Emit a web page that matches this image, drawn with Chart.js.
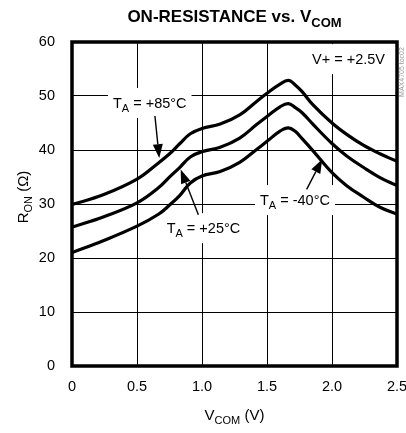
<!DOCTYPE html>
<html>
<head>
<meta charset="utf-8">
<script src="https://cdn.jsdelivr.net/npm/chart.js@4.4.1/dist/chart.umd.min.js"></script>
<style>
  html, body { margin: 0; padding: 0; background: #fff; }
  canvas { display: block; }
</style>
</head>
<body>
<canvas id="chart" width="406" height="433"></canvas>
<script>
// V_COM sweep (V) and on-resistance (ohm) per ambient temperature
const vcom   = [0, 0.24, 0.5, 0.665, 0.755, 0.83, 0.91, 1.0, 1.14, 1.29, 1.42, 1.5, 1.6, 1.664, 1.715, 1.77, 1.856, 2.0, 2.113, 2.241, 2.369, 2.5];
const ronP85 = [29.9, 31.7, 34.6, 37.6, 39.4, 41.2, 43.0, 44.0, 44.8, 46.5, 49.0, 50.5, 52.2, 52.9, 52.1, 50.8, 48.3, 45.0, 42.9, 40.9, 39.3, 37.9];
const ronP25 = [25.7, 27.6, 30.2, 33.0, 35.1, 36.8, 38.7, 39.7, 40.5, 42.2, 44.7, 46.2, 48.0, 48.6, 47.9, 46.9, 44.7, 41.2, 38.9, 36.8, 34.9, 33.4];
const ronM40 = [21.0, 23.2, 25.9, 28.1, 29.9, 31.6, 33.9, 35.2, 36.0, 37.7, 40.1, 41.6, 43.5, 44.1, 43.5, 42.1, 39.8, 35.8, 33.4, 31.3, 29.4, 28.1];

const xTickLabels = ["0", "0.5", "1.0", "1.5", "2.0", "2.5"];
const yTicks = [0, 10, 20, 30, 40, 50, 60];

// callouts, in data units (x = V_COM, y = baseline in ohms)
const callouts = [
  { parts: [["T"], ["A", 1], [" = +85°C"]], x: 0.315, y: 47.8, align: "left" },
  { parts: [["T"], ["A", 1], [" = +25°C"]], x: 0.728, y: 24.6, align: "left" },
  { parts: [["T"], ["A", 1], [" = -40°C"]], x: 1.446, y: 29.8, align: "left" },
  { parts: [["V+ = +2.5V"]], x: 2.408, y: 55.9, align: "right" },
];
const arrows = [
  { from: [0.638, 46.3], to: [0.671, 38.5] },
  { from: [0.972, 28.0], to: [0.836, 36.4] },
  { from: [1.805, 32.7], to: [1.925, 38.3] },
];

const FAMILY = '"Liberation Sans", Arial, sans-serif';
const font = (size, bold) => `${bold ? "bold " : ""}${size}px ${FAMILY}`;

const pts = (ys) => vcom.map((x, i) => ({ x, y: ys[i] }));

// text with optional subscript pieces: parts = [[text, isSub], ...]
function richText(ctx, parts, x, y, align, size, bold) {
  const sub = Math.round(size * 0.76);
  const widths = parts.map(([t, s]) => {
    ctx.font = font(s ? sub : size, bold);
    return ctx.measureText(t).width;
  });
  const total = widths.reduce((a, b) => a + b, 0);
  let cx = align === "center" ? x - total / 2 : align === "right" ? x - total : x;
  const left = cx;
  ctx.textAlign = "left";
  ctx.textBaseline = "alphabetic";
  parts.forEach(([t, s], i) => {
    ctx.font = font(s ? sub : size, bold);
    ctx.fillText(t, cx, y + (s ? size * 0.27 : 0));
    cx += widths[i];
  });
  return { left, width: total };
}

function measureRich(ctx, parts, size) {
  const sub = Math.round(size * 0.76);
  return parts.reduce((w, [t, s]) => {
    ctx.font = font(s ? sub : size);
    return w + ctx.measureText(t).width;
  }, 0);
}

const LABEL_SIZE = 14.5;

const overlay = {
  id: "overlay",
  beforeDatasetsDraw(chart) {
    // white boxes knock the grid out behind the callouts
    const { ctx, scales: { x, y }, chartArea: a } = chart;
    ctx.save();
    ctx.fillStyle = "#fff";
    callouts.forEach((c) => {
      const w = measureRich(ctx, c.parts, LABEL_SIZE);
      const px = x.getPixelForValue(c.x);
      const py = y.getPixelForValue(c.y);
      const left = c.align === "right" ? px - w : px;
      const top = Math.max(a.top + 2, py - 20);
      ctx.fillRect(left - 5, top, w + 10, py + 10 - top);
    });
    ctx.restore();
  },
  afterDatasetsDraw(chart) {
    const { ctx, scales: { x, y }, chartArea: a } = chart;
    ctx.save();
    ctx.fillStyle = "#000";
    ctx.strokeStyle = "#000";

    callouts.forEach((c) => {
      richText(ctx, c.parts, x.getPixelForValue(c.x), y.getPixelForValue(c.y), c.align, LABEL_SIZE);
    });

    arrows.forEach((ar) => {
      const x0 = x.getPixelForValue(ar.from[0]), y0 = y.getPixelForValue(ar.from[1]);
      const x1 = x.getPixelForValue(ar.to[0]), y1 = y.getPixelForValue(ar.to[1]);
      const ang = Math.atan2(y1 - y0, x1 - x0);
      const len = 14, half = 5;
      const bx = x1 - len * Math.cos(ang), by = y1 - len * Math.sin(ang);
      ctx.lineWidth = 1.4;
      ctx.beginPath();
      ctx.moveTo(x0, y0);
      ctx.lineTo(bx, by);
      ctx.stroke();
      ctx.beginPath();
      ctx.moveTo(x1, y1);
      ctx.lineTo(bx + half * Math.sin(ang), by - half * Math.cos(ang));
      ctx.lineTo(bx - half * Math.sin(ang), by + half * Math.cos(ang));
      ctx.closePath();
      ctx.fill();
    });

    // heavy plot frame
    ctx.lineWidth = 3.5;
    ctx.strokeRect(a.left, a.top, a.right - a.left, a.bottom - a.top);
    ctx.restore();
  },
  afterDraw(chart) {
    const { ctx, chartArea: a } = chart;
    const mid = (a.left + a.right) / 2;
    ctx.save();
    ctx.fillStyle = "#000";

    richText(ctx, [["ON-RESISTANCE vs. V"], ["COM", 1]], mid, 22, "center", 17, true);
    richText(ctx, [["V"], ["COM", 1], [" (V)"]], mid, 420, "center", 15);

    ctx.save();
    ctx.translate(28, 197);
    ctx.rotate(-Math.PI / 2);
    richText(ctx, [["R"], ["ON", 1], [" (Ω)"]], 0, 0, "center", 15);
    ctx.restore();

    ctx.save();
    ctx.translate(404, 72);
    ctx.rotate(-Math.PI / 2);
    ctx.fillStyle = "#999";
    ctx.font = font(7);
    ctx.textAlign = "center";
    ctx.fillText("MAX4705 toc02", 0, 0);
    ctx.restore();

    ctx.restore();
  },
};

const line = (data) => ({
  data,
  borderColor: "#000",
  borderWidth: 3.2,
  pointRadius: 0,
  tension: 0.4,
  fill: false,
});

new Chart(document.getElementById("chart"), {
  type: "line",
  data: {
    datasets: [line(pts(ronP85)), line(pts(ronP25)), line(pts(ronM40))],
  },
  options: {
    responsive: false,
    animation: false,
    events: [],
    layout: { padding: { top: 42, right: 9, left: 0, bottom: 0 } },
    plugins: { legend: { display: false }, tooltip: { enabled: false } },
    scales: {
      x: {
        type: "linear",
        min: 0,
        max: 2.5,
        afterBuildTicks: (s) => { s.ticks = xTickLabels.map((_, i) => ({ value: i * 0.5 })); },
        ticks: {
          color: "#000",
          padding: 12,
          maxRotation: 0,
          font: { family: FAMILY, size: 14.5 },
          callback: (v, i) => xTickLabels[i],
        },
        grid: { color: "#000", lineWidth: 1, drawTicks: false },
        border: { display: false },
        afterFit: (s) => { s.height = 67; s.paddingLeft = 0; s.paddingRight = 0; },
      },
      y: {
        type: "linear",
        min: 0,
        max: 60,
        afterBuildTicks: (s) => { s.ticks = yTicks.map((v) => ({ value: v })); },
        ticks: {
          color: "#000",
          padding: 17,
          font: { family: FAMILY, size: 14.5 },
        },
        grid: { color: "#000", lineWidth: 1, drawTicks: false },
        border: { display: false },
        afterFit: (s) => { s.width = 72; s.paddingTop = 0; s.paddingBottom = 0; },
      },
    },
  },
  plugins: [overlay],
});
</script>
</body>
</html>
